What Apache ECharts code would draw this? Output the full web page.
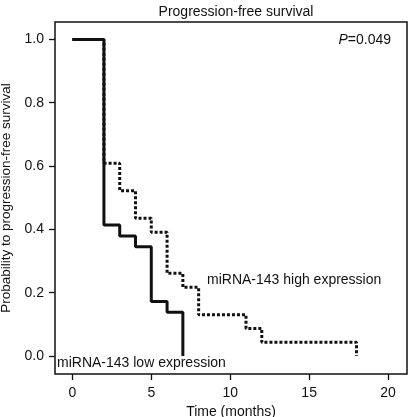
<!DOCTYPE html>
<html><head><meta charset="utf-8">
<script src="https://cdn.jsdelivr.net/npm/echarts@6/dist/echarts.min.js"></script>
<style>html,body{margin:0;padding:0;background:#fff}#c{width:408px;height:417px}</style>
</head><body><div id="c"></div>
<script>
const lowTimes = [0, 2, 3, 4, 5, 6, 7];
const lowSurv = [1.0, 0.414, 0.379, 0.345, 0.172, 0.138, 0.0];
const highTimes = [0, 2, 3, 4, 5, 6, 7, 8, 11, 12, 18];
const highSurv = [1.0, 0.609, 0.522, 0.435, 0.391, 0.261, 0.217, 0.130, 0.087, 0.043, 0.0];
const xTicks = [0, 5, 10, 15, 20];
const yTicks = [0, 0.2, 0.4, 0.6, 0.8, 1.0];
const titleText = 'Progression-free survival';
const xName = 'Time (months)';
const yName = 'Probability to progression-free survival';
const highLabel = 'miRNA-143 high expression';
const lowLabel = 'miRNA-143 low expression';

const font = '"Liberation Sans", Arial, Helvetica, sans-serif';
const chart = echarts.init(document.getElementById('c'), null, {renderer: 'canvas'});
chart.setOption({
  animation: false,
  backgroundColor: '#fff',
  title: {text: titleText, left: 231, top: 0, textAlign: 'center',
    textStyle: {fontFamily: font, fontSize: 14, fontWeight: 'normal', color: '#111'}},
  grid: {left: 55, right: 1, top: 22, bottom: 43, containLabel: false, outerBoundsMode: 'none',
    show: true, borderColor: '#111', borderWidth: 1.5, backgroundColor: 'transparent'},
  xAxis: {type: 'value', min: -1.1, max: 21.2,
    name: xName, nameLocation: 'middle', nameGap: 27,
    nameTextStyle: {fontFamily: font, fontSize: 14, color: '#111'},
    splitLine: {show: false}, axisLine: {show: false, onZero: false},
    axisTick: {show: true, customValues: xTicks, length: 6, lineStyle: {color: '#111', width: 1.3}},
    axisLabel: {customValues: xTicks, margin: 12, fontFamily: font, fontSize: 14, color: '#111'}},
  yAxis: {type: 'value', min: -0.057, max: 1.055,
    name: yName, nameLocation: 'middle', nameGap: 37,
    nameTextStyle: {fontFamily: font, fontSize: 13.5, color: '#111'},
    splitLine: {show: false}, axisLine: {show: false, onZero: false},
    axisTick: {show: true, customValues: yTicks, length: 6, lineStyle: {color: '#111', width: 1.3}},
    axisLabel: {customValues: yTicks, margin: 11, fontFamily: font, fontSize: 14, color: '#111',
      formatter: v => v.toFixed(1)}},
  series: [
    {type: 'line', step: 'end', symbol: 'none', z: 2,
      data: highTimes.map((t, i) => [t, highSurv[i]]),
      lineStyle: {color: '#111', width: 3, type: [3, 2], cap: 'butt'}},
    {type: 'line', step: 'end', symbol: 'none', z: 3,
      data: lowTimes.map((t, i) => [t, lowSurv[i]]),
      lineStyle: {color: '#111', width: 3, cap: 'butt'}}
  ],
  graphic: [
    {type: 'text', left: 207, top: 273, style: {text: highLabel, font: '14px ' + font, fill: '#111'}},
    {type: 'text', left: 57, top: 356, style: {text: lowLabel, font: '14px ' + font, fill: '#111'}},
    {type: 'text', right: 17, top: 33, style: {rich: {i: {fontStyle: 'italic', fontSize: 14, fontFamily: font, fill: '#111'}, n: {fontSize: 14, fontFamily: font, fill: '#111'}},
      text: '{i|P}{n|=0.049}'}}
  ]
});
</script></body></html>
